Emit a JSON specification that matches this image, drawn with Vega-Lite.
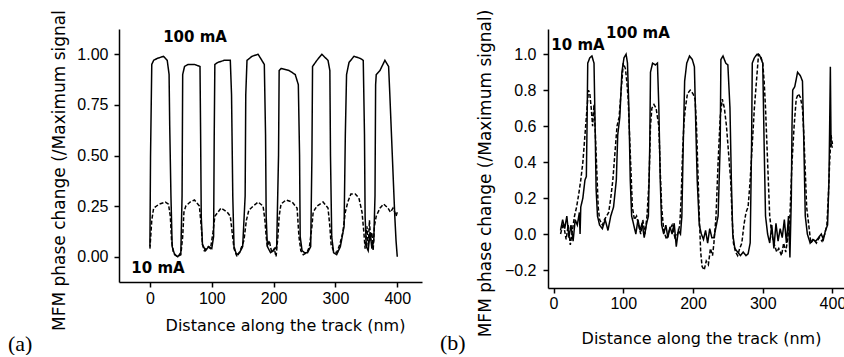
{
"$schema": "https://vega.github.io/schema/vega-lite/v6.json",
"background": "white",
"padding": {"left": 8, "top": 9, "right": 0, "bottom": 0},
"bounds": "flush",
"spacing": 126,
"config": {
 "view": {"stroke": null},
 "axis": {"domainColor": "black", "domainWidth": 1.5, "tickColor": "black", "tickWidth": 1.5, "tickSize": 5, "labelColor": "black", "titleColor": "black", "grid": false, "labelFont": "Liberation Sans", "labelFontSize": 16, "titleFont": "DejaVu Sans", "titleFontWeight": "normal"}
},
"datasets": {
 "a": [
{"x":0,"y":0.05,"s":"100 mA"},{"x":1,"y":0.5,"s":"100 mA"},{"x":3,"y":0.95,"s":"100 mA"},{"x":6,"y":0.97,"s":"100 mA"},{"x":12,"y":0.98,"s":"100 mA"},{"x":22,"y":0.99,"s":"100 mA"},{"x":28,"y":0.97,"s":"100 mA"},{"x":31,"y":0.9,"s":"100 mA"},{"x":32,"y":0.65,"s":"100 mA"},{"x":34,"y":0.3,"s":"100 mA"},{"x":36,"y":0.05,"s":"100 mA"},{"x":40,"y":0.01,"s":"100 mA"},{"x":45,"y":0.0,"s":"100 mA"},{"x":50,"y":0.02,"s":"100 mA"},{"x":52,"y":0.3,"s":"100 mA"},{"x":53,"y":0.9,"s":"100 mA"},{"x":56,"y":0.94,"s":"100 mA"},{"x":62,"y":0.95,"s":"100 mA"},{"x":72,"y":0.95,"s":"100 mA"},{"x":81,"y":0.94,"s":"100 mA"},{"x":82,"y":0.6,"s":"100 mA"},{"x":83,"y":0.2,"s":"100 mA"},{"x":85,"y":0.06,"s":"100 mA"},{"x":90,"y":0.03,"s":"100 mA"},{"x":95,"y":0.05,"s":"100 mA"},{"x":100,"y":0.04,"s":"100 mA"},{"x":103,"y":0.1,"s":"100 mA"},{"x":104,"y":0.6,"s":"100 mA"},{"x":105,"y":0.95,"s":"100 mA"},{"x":110,"y":0.96,"s":"100 mA"},{"x":120,"y":0.97,"s":"100 mA"},{"x":130,"y":0.97,"s":"100 mA"},{"x":132,"y":0.8,"s":"100 mA"},{"x":134,"y":0.3,"s":"100 mA"},{"x":136,"y":0.05,"s":"100 mA"},{"x":140,"y":0.01,"s":"100 mA"},{"x":145,"y":0.02,"s":"100 mA"},{"x":150,"y":0.05,"s":"100 mA"},{"x":154,"y":0.3,"s":"100 mA"},{"x":155,"y":0.8,"s":"100 mA"},{"x":157,"y":0.97,"s":"100 mA"},{"x":165,"y":0.99,"s":"100 mA"},{"x":175,"y":1.0,"s":"100 mA"},{"x":185,"y":0.95,"s":"100 mA"},{"x":187,"y":0.6,"s":"100 mA"},{"x":188,"y":0.2,"s":"100 mA"},{"x":190,"y":0.05,"s":"100 mA"},{"x":195,"y":0.02,"s":"100 mA"},{"x":200,"y":0.03,"s":"100 mA"},{"x":205,"y":0.05,"s":"100 mA"},{"x":208,"y":0.5,"s":"100 mA"},{"x":209,"y":0.92,"s":"100 mA"},{"x":212,"y":0.93,"s":"100 mA"},{"x":225,"y":0.92,"s":"100 mA"},{"x":235,"y":0.9,"s":"100 mA"},{"x":240,"y":0.85,"s":"100 mA"},{"x":242,"y":0.5,"s":"100 mA"},{"x":243,"y":0.1,"s":"100 mA"},{"x":246,"y":0.03,"s":"100 mA"},{"x":250,"y":0.02,"s":"100 mA"},{"x":255,"y":0.02,"s":"100 mA"},{"x":260,"y":0.05,"s":"100 mA"},{"x":262,"y":0.5,"s":"100 mA"},{"x":263,"y":0.94,"s":"100 mA"},{"x":270,"y":0.97,"s":"100 mA"},{"x":278,"y":1.0,"s":"100 mA"},{"x":288,"y":0.97,"s":"100 mA"},{"x":291,"y":0.92,"s":"100 mA"},{"x":292,"y":0.5,"s":"100 mA"},{"x":294,"y":0.1,"s":"100 mA"},{"x":297,"y":0.02,"s":"100 mA"},{"x":302,"y":0.01,"s":"100 mA"},{"x":308,"y":0.05,"s":"100 mA"},{"x":314,"y":0.15,"s":"100 mA"},{"x":316,"y":0.6,"s":"100 mA"},{"x":318,"y":0.9,"s":"100 mA"},{"x":322,"y":0.96,"s":"100 mA"},{"x":330,"y":0.99,"s":"100 mA"},{"x":340,"y":0.98,"s":"100 mA"},{"x":345,"y":0.97,"s":"100 mA"},{"x":347,"y":0.6,"s":"100 mA"},{"x":348,"y":0.2,"s":"100 mA"},{"x":350,"y":0.05,"s":"100 mA"},{"x":353,"y":0.03,"s":"100 mA"},{"x":356,"y":0.12,"s":"100 mA"},{"x":359,"y":0.04,"s":"100 mA"},{"x":362,"y":0.08,"s":"100 mA"},{"x":364,"y":0.3,"s":"100 mA"},{"x":365,"y":0.85,"s":"100 mA"},{"x":366,"y":0.9,"s":"100 mA"},{"x":372,"y":0.92,"s":"100 mA"},{"x":380,"y":0.97,"s":"100 mA"},{"x":386,"y":0.94,"s":"100 mA"},{"x":388,"y":0.8,"s":"100 mA"},{"x":390,"y":0.65,"s":"100 mA"},{"x":392,"y":0.5,"s":"100 mA"},{"x":394,"y":0.35,"s":"100 mA"},{"x":396,"y":0.2,"s":"100 mA"},{"x":398,"y":0.08,"s":"100 mA"},{"x":400,"y":0.0,"s":"100 mA"},
{"x":0,"y":0.04,"s":"10 mA"},{"x":3,"y":0.18,"s":"10 mA"},{"x":6,"y":0.24,"s":"10 mA"},{"x":15,"y":0.26,"s":"10 mA"},{"x":25,"y":0.27,"s":"10 mA"},{"x":30,"y":0.26,"s":"10 mA"},{"x":33,"y":0.2,"s":"10 mA"},{"x":35,"y":0.08,"s":"10 mA"},{"x":38,"y":0.02,"s":"10 mA"},{"x":44,"y":0.0,"s":"10 mA"},{"x":50,"y":0.01,"s":"10 mA"},{"x":53,"y":0.1,"s":"10 mA"},{"x":55,"y":0.22,"s":"10 mA"},{"x":58,"y":0.25,"s":"10 mA"},{"x":65,"y":0.27,"s":"10 mA"},{"x":72,"y":0.28,"s":"10 mA"},{"x":80,"y":0.25,"s":"10 mA"},{"x":83,"y":0.15,"s":"10 mA"},{"x":85,"y":0.06,"s":"10 mA"},{"x":88,"y":0.03,"s":"10 mA"},{"x":93,"y":0.05,"s":"10 mA"},{"x":98,"y":0.04,"s":"10 mA"},{"x":102,"y":0.12,"s":"10 mA"},{"x":105,"y":0.2,"s":"10 mA"},{"x":110,"y":0.22,"s":"10 mA"},{"x":115,"y":0.24,"s":"10 mA"},{"x":125,"y":0.22,"s":"10 mA"},{"x":130,"y":0.2,"s":"10 mA"},{"x":133,"y":0.12,"s":"10 mA"},{"x":136,"y":0.04,"s":"10 mA"},{"x":141,"y":0.0,"s":"10 mA"},{"x":146,"y":0.03,"s":"10 mA"},{"x":152,"y":0.08,"s":"10 mA"},{"x":156,"y":0.18,"s":"10 mA"},{"x":160,"y":0.23,"s":"10 mA"},{"x":167,"y":0.25,"s":"10 mA"},{"x":175,"y":0.27,"s":"10 mA"},{"x":183,"y":0.25,"s":"10 mA"},{"x":186,"y":0.18,"s":"10 mA"},{"x":188,"y":0.1,"s":"10 mA"},{"x":190,"y":0.05,"s":"10 mA"},{"x":193,"y":0.08,"s":"10 mA"},{"x":197,"y":0.02,"s":"10 mA"},{"x":201,"y":0.04,"s":"10 mA"},{"x":204,"y":0.0,"s":"10 mA"},{"x":207,"y":0.1,"s":"10 mA"},{"x":209,"y":0.2,"s":"10 mA"},{"x":212,"y":0.26,"s":"10 mA"},{"x":220,"y":0.28,"s":"10 mA"},{"x":230,"y":0.27,"s":"10 mA"},{"x":238,"y":0.24,"s":"10 mA"},{"x":241,"y":0.1,"s":"10 mA"},{"x":244,"y":0.03,"s":"10 mA"},{"x":248,"y":0.01,"s":"10 mA"},{"x":254,"y":0.02,"s":"10 mA"},{"x":258,"y":0.05,"s":"10 mA"},{"x":262,"y":0.15,"s":"10 mA"},{"x":264,"y":0.22,"s":"10 mA"},{"x":270,"y":0.25,"s":"10 mA"},{"x":280,"y":0.27,"s":"10 mA"},{"x":288,"y":0.24,"s":"10 mA"},{"x":291,"y":0.15,"s":"10 mA"},{"x":293,"y":0.06,"s":"10 mA"},{"x":297,"y":0.03,"s":"10 mA"},{"x":302,"y":0.02,"s":"10 mA"},{"x":307,"y":0.06,"s":"10 mA"},{"x":312,"y":0.12,"s":"10 mA"},{"x":316,"y":0.22,"s":"10 mA"},{"x":320,"y":0.27,"s":"10 mA"},{"x":325,"y":0.31,"s":"10 mA"},{"x":332,"y":0.31,"s":"10 mA"},{"x":338,"y":0.29,"s":"10 mA"},{"x":343,"y":0.22,"s":"10 mA"},{"x":346,"y":0.12,"s":"10 mA"},{"x":348,"y":0.04,"s":"10 mA"},{"x":351,"y":0.15,"s":"10 mA"},{"x":353,"y":0.05,"s":"10 mA"},{"x":355,"y":0.18,"s":"10 mA"},{"x":357,"y":0.08,"s":"10 mA"},{"x":359,"y":0.12,"s":"10 mA"},{"x":361,"y":0.03,"s":"10 mA"},{"x":363,"y":0.15,"s":"10 mA"},{"x":366,"y":0.2,"s":"10 mA"},{"x":372,"y":0.24,"s":"10 mA"},{"x":378,"y":0.26,"s":"10 mA"},{"x":385,"y":0.24,"s":"10 mA"},{"x":389,"y":0.22,"s":"10 mA"},{"x":393,"y":0.24,"s":"10 mA"},{"x":396,"y":0.22,"s":"10 mA"},{"x":398,"y":0.2,"s":"10 mA"},{"x":400,"y":0.22,"s":"10 mA"}
 ],
 "b": [
{"x":10,"y":0.02,"s":"100 mA"},{"x":13,"y":0.08,"s":"100 mA"},{"x":16,"y":0.03,"s":"100 mA"},{"x":19,"y":0.1,"s":"100 mA"},{"x":22,"y":-0.02,"s":"100 mA"},{"x":25,"y":0.05,"s":"100 mA"},{"x":28,"y":-0.04,"s":"100 mA"},{"x":31,"y":0.08,"s":"100 mA"},{"x":34,"y":0.05,"s":"100 mA"},{"x":37,"y":0.12,"s":"100 mA"},{"x":38,"y":0.0,"s":"100 mA"},{"x":39,"y":0.15,"s":"100 mA"},{"x":42,"y":0.2,"s":"100 mA"},{"x":45,"y":0.3,"s":"100 mA"},{"x":47,"y":0.32,"s":"100 mA"},{"x":48,"y":0.6,"s":"100 mA"},{"x":49,"y":0.95,"s":"100 mA"},{"x":52,"y":0.98,"s":"100 mA"},{"x":55,"y":0.99,"s":"100 mA"},{"x":58,"y":0.95,"s":"100 mA"},{"x":60,"y":0.5,"s":"100 mA"},{"x":61,"y":0.25,"s":"100 mA"},{"x":63,"y":0.1,"s":"100 mA"},{"x":66,"y":0.05,"s":"100 mA"},{"x":70,"y":0.03,"s":"100 mA"},{"x":74,"y":0.08,"s":"100 mA"},{"x":78,"y":0.02,"s":"100 mA"},{"x":82,"y":0.1,"s":"100 mA"},{"x":86,"y":0.15,"s":"100 mA"},{"x":90,"y":0.3,"s":"100 mA"},{"x":92,"y":0.55,"s":"100 mA"},{"x":95,"y":0.65,"s":"100 mA"},{"x":98,"y":0.9,"s":"100 mA"},{"x":101,"y":0.98,"s":"100 mA"},{"x":104,"y":1.0,"s":"100 mA"},{"x":106,"y":0.95,"s":"100 mA"},{"x":108,"y":0.7,"s":"100 mA"},{"x":110,"y":0.3,"s":"100 mA"},{"x":112,"y":0.1,"s":"100 mA"},{"x":115,"y":0.05,"s":"100 mA"},{"x":118,"y":0.0,"s":"100 mA"},{"x":121,"y":0.08,"s":"100 mA"},{"x":124,"y":0.02,"s":"100 mA"},{"x":127,"y":0.06,"s":"100 mA"},{"x":130,"y":-0.02,"s":"100 mA"},{"x":133,"y":0.05,"s":"100 mA"},{"x":136,"y":0.1,"s":"100 mA"},{"x":138,"y":0.5,"s":"100 mA"},{"x":139,"y":0.9,"s":"100 mA"},{"x":142,"y":0.95,"s":"100 mA"},{"x":146,"y":0.94,"s":"100 mA"},{"x":149,"y":0.95,"s":"100 mA"},{"x":151,"y":0.7,"s":"100 mA"},{"x":153,"y":0.3,"s":"100 mA"},{"x":155,"y":0.05,"s":"100 mA"},{"x":158,"y":0.0,"s":"100 mA"},{"x":161,"y":0.05,"s":"100 mA"},{"x":164,"y":-0.02,"s":"100 mA"},{"x":167,"y":0.04,"s":"100 mA"},{"x":170,"y":0.0,"s":"100 mA"},{"x":173,"y":0.06,"s":"100 mA"},{"x":176,"y":-0.07,"s":"100 mA"},{"x":179,"y":0.02,"s":"100 mA"},{"x":182,"y":0.0,"s":"100 mA"},{"x":184,"y":0.1,"s":"100 mA"},{"x":186,"y":0.5,"s":"100 mA"},{"x":188,"y":0.85,"s":"100 mA"},{"x":191,"y":0.95,"s":"100 mA"},{"x":195,"y":0.99,"s":"100 mA"},{"x":199,"y":0.97,"s":"100 mA"},{"x":202,"y":0.93,"s":"100 mA"},{"x":204,"y":0.6,"s":"100 mA"},{"x":206,"y":0.3,"s":"100 mA"},{"x":209,"y":0.05,"s":"100 mA"},{"x":212,"y":0.0,"s":"100 mA"},{"x":215,"y":-0.03,"s":"100 mA"},{"x":218,"y":0.02,"s":"100 mA"},{"x":221,"y":-0.05,"s":"100 mA"},{"x":224,"y":0.03,"s":"100 mA"},{"x":227,"y":-0.02,"s":"100 mA"},{"x":230,"y":-0.02,"s":"100 mA"},{"x":236,"y":0.1,"s":"100 mA"},{"x":239,"y":0.5,"s":"100 mA"},{"x":240,"y":0.97,"s":"100 mA"},{"x":243,"y":0.99,"s":"100 mA"},{"x":247,"y":0.95,"s":"100 mA"},{"x":250,"y":0.94,"s":"100 mA"},{"x":253,"y":0.7,"s":"100 mA"},{"x":255,"y":0.3,"s":"100 mA"},{"x":257,"y":0.0,"s":"100 mA"},{"x":260,"y":-0.08,"s":"100 mA"},{"x":264,"y":-0.1,"s":"100 mA"},{"x":268,"y":-0.12,"s":"100 mA"},{"x":272,"y":-0.1,"s":"100 mA"},{"x":276,"y":-0.12,"s":"100 mA"},{"x":279,"y":-0.11,"s":"100 mA"},{"x":282,"y":-0.05,"s":"100 mA"},{"x":284,"y":0.5,"s":"100 mA"},{"x":285,"y":0.95,"s":"100 mA"},{"x":288,"y":0.98,"s":"100 mA"},{"x":292,"y":1.0,"s":"100 mA"},{"x":296,"y":0.99,"s":"100 mA"},{"x":300,"y":0.95,"s":"100 mA"},{"x":302,"y":0.5,"s":"100 mA"},{"x":304,"y":0.1,"s":"100 mA"},{"x":307,"y":0.0,"s":"100 mA"},{"x":310,"y":-0.05,"s":"100 mA"},{"x":313,"y":0.05,"s":"100 mA"},{"x":316,"y":-0.08,"s":"100 mA"},{"x":319,"y":0.06,"s":"100 mA"},{"x":322,"y":-0.04,"s":"100 mA"},{"x":325,"y":0.03,"s":"100 mA"},{"x":328,"y":-0.02,"s":"100 mA"},{"x":331,"y":0.08,"s":"100 mA"},{"x":334,"y":-0.05,"s":"100 mA"},{"x":337,"y":0.1,"s":"100 mA"},{"x":339,"y":-0.13,"s":"100 mA"},{"x":341,"y":0.2,"s":"100 mA"},{"x":342,"y":0.6,"s":"100 mA"},{"x":343,"y":0.8,"s":"100 mA"},{"x":346,"y":0.82,"s":"100 mA"},{"x":350,"y":0.9,"s":"100 mA"},{"x":354,"y":0.88,"s":"100 mA"},{"x":357,"y":0.85,"s":"100 mA"},{"x":359,"y":0.5,"s":"100 mA"},{"x":361,"y":0.1,"s":"100 mA"},{"x":364,"y":0.0,"s":"100 mA"},{"x":368,"y":-0.05,"s":"100 mA"},{"x":372,"y":-0.03,"s":"100 mA"},{"x":376,"y":-0.04,"s":"100 mA"},{"x":380,"y":-0.02,"s":"100 mA"},{"x":384,"y":0.0,"s":"100 mA"},{"x":387,"y":-0.03,"s":"100 mA"},{"x":390,"y":0.02,"s":"100 mA"},{"x":393,"y":0.05,"s":"100 mA"},{"x":395,"y":0.3,"s":"100 mA"},{"x":396,"y":0.6,"s":"100 mA"},{"x":397,"y":0.93,"s":"100 mA"},{"x":398,"y":0.5,"s":"100 mA"},{"x":400,"y":0.48,"s":"100 mA"},
{"x":10,"y":0.0,"s":"10 mA"},{"x":14,"y":0.06,"s":"10 mA"},{"x":18,"y":-0.03,"s":"10 mA"},{"x":21,"y":0.05,"s":"10 mA"},{"x":24,"y":-0.06,"s":"10 mA"},{"x":27,"y":0.02,"s":"10 mA"},{"x":30,"y":0.1,"s":"10 mA"},{"x":33,"y":0.15,"s":"10 mA"},{"x":36,"y":0.22,"s":"10 mA"},{"x":39,"y":0.3,"s":"10 mA"},{"x":42,"y":0.4,"s":"10 mA"},{"x":44,"y":0.5,"s":"10 mA"},{"x":46,"y":0.6,"s":"10 mA"},{"x":48,"y":0.7,"s":"10 mA"},{"x":50,"y":0.8,"s":"10 mA"},{"x":52,"y":0.78,"s":"10 mA"},{"x":54,"y":0.7,"s":"10 mA"},{"x":56,"y":0.6,"s":"10 mA"},{"x":58,"y":0.72,"s":"10 mA"},{"x":60,"y":0.55,"s":"10 mA"},{"x":62,"y":0.35,"s":"10 mA"},{"x":64,"y":0.15,"s":"10 mA"},{"x":66,"y":0.08,"s":"10 mA"},{"x":70,"y":0.05,"s":"10 mA"},{"x":73,"y":0.08,"s":"10 mA"},{"x":76,"y":0.1,"s":"10 mA"},{"x":79,"y":0.12,"s":"10 mA"},{"x":82,"y":0.2,"s":"10 mA"},{"x":85,"y":0.3,"s":"10 mA"},{"x":88,"y":0.45,"s":"10 mA"},{"x":91,"y":0.6,"s":"10 mA"},{"x":94,"y":0.65,"s":"10 mA"},{"x":97,"y":0.8,"s":"10 mA"},{"x":100,"y":0.95,"s":"10 mA"},{"x":103,"y":0.92,"s":"10 mA"},{"x":105,"y":0.85,"s":"10 mA"},{"x":107,"y":0.75,"s":"10 mA"},{"x":109,"y":0.55,"s":"10 mA"},{"x":111,"y":0.35,"s":"10 mA"},{"x":113,"y":0.15,"s":"10 mA"},{"x":116,"y":0.08,"s":"10 mA"},{"x":119,"y":0.1,"s":"10 mA"},{"x":122,"y":0.05,"s":"10 mA"},{"x":125,"y":0.0,"s":"10 mA"},{"x":128,"y":0.08,"s":"10 mA"},{"x":131,"y":0.0,"s":"10 mA"},{"x":134,"y":0.1,"s":"10 mA"},{"x":137,"y":0.3,"s":"10 mA"},{"x":139,"y":0.6,"s":"10 mA"},{"x":141,"y":0.7,"s":"10 mA"},{"x":144,"y":0.72,"s":"10 mA"},{"x":147,"y":0.7,"s":"10 mA"},{"x":149,"y":0.65,"s":"10 mA"},{"x":151,"y":0.6,"s":"10 mA"},{"x":153,"y":0.35,"s":"10 mA"},{"x":155,"y":0.15,"s":"10 mA"},{"x":158,"y":0.02,"s":"10 mA"},{"x":162,"y":-0.03,"s":"10 mA"},{"x":166,"y":0.02,"s":"10 mA"},{"x":170,"y":0.05,"s":"10 mA"},{"x":174,"y":-0.02,"s":"10 mA"},{"x":178,"y":0.0,"s":"10 mA"},{"x":181,"y":0.05,"s":"10 mA"},{"x":183,"y":0.2,"s":"10 mA"},{"x":185,"y":0.45,"s":"10 mA"},{"x":187,"y":0.62,"s":"10 mA"},{"x":189,"y":0.7,"s":"10 mA"},{"x":192,"y":0.78,"s":"10 mA"},{"x":196,"y":0.8,"s":"10 mA"},{"x":200,"y":0.78,"s":"10 mA"},{"x":203,"y":0.75,"s":"10 mA"},{"x":205,"y":0.6,"s":"10 mA"},{"x":207,"y":0.35,"s":"10 mA"},{"x":209,"y":0.1,"s":"10 mA"},{"x":211,"y":-0.1,"s":"10 mA"},{"x":213,"y":-0.18,"s":"10 mA"},{"x":216,"y":-0.2,"s":"10 mA"},{"x":219,"y":-0.15,"s":"10 mA"},{"x":222,"y":-0.17,"s":"10 mA"},{"x":225,"y":-0.08,"s":"10 mA"},{"x":228,"y":-0.12,"s":"10 mA"},{"x":230,"y":-0.05,"s":"10 mA"},{"x":233,"y":0.1,"s":"10 mA"},{"x":236,"y":0.4,"s":"10 mA"},{"x":239,"y":0.65,"s":"10 mA"},{"x":242,"y":0.75,"s":"10 mA"},{"x":245,"y":0.7,"s":"10 mA"},{"x":248,"y":0.6,"s":"10 mA"},{"x":251,"y":0.45,"s":"10 mA"},{"x":254,"y":0.3,"s":"10 mA"},{"x":256,"y":0.1,"s":"10 mA"},{"x":258,"y":-0.05,"s":"10 mA"},{"x":261,"y":-0.1,"s":"10 mA"},{"x":264,"y":-0.12,"s":"10 mA"},{"x":267,"y":-0.08,"s":"10 mA"},{"x":270,"y":-0.05,"s":"10 mA"},{"x":273,"y":0.05,"s":"10 mA"},{"x":276,"y":0.12,"s":"10 mA"},{"x":279,"y":0.15,"s":"10 mA"},{"x":282,"y":0.3,"s":"10 mA"},{"x":285,"y":0.5,"s":"10 mA"},{"x":288,"y":0.7,"s":"10 mA"},{"x":291,"y":0.85,"s":"10 mA"},{"x":294,"y":1.0,"s":"10 mA"},{"x":297,"y":0.99,"s":"10 mA"},{"x":300,"y":0.95,"s":"10 mA"},{"x":302,"y":0.85,"s":"10 mA"},{"x":304,"y":0.7,"s":"10 mA"},{"x":306,"y":0.5,"s":"10 mA"},{"x":308,"y":0.3,"s":"10 mA"},{"x":310,"y":0.1,"s":"10 mA"},{"x":313,"y":0.0,"s":"10 mA"},{"x":316,"y":-0.05,"s":"10 mA"},{"x":320,"y":-0.1,"s":"10 mA"},{"x":323,"y":-0.08,"s":"10 mA"},{"x":327,"y":-0.12,"s":"10 mA"},{"x":330,"y":-0.05,"s":"10 mA"},{"x":333,"y":-0.1,"s":"10 mA"},{"x":336,"y":-0.02,"s":"10 mA"},{"x":339,"y":0.1,"s":"10 mA"},{"x":342,"y":0.4,"s":"10 mA"},{"x":345,"y":0.6,"s":"10 mA"},{"x":348,"y":0.75,"s":"10 mA"},{"x":351,"y":0.78,"s":"10 mA"},{"x":354,"y":0.76,"s":"10 mA"},{"x":357,"y":0.7,"s":"10 mA"},{"x":359,"y":0.55,"s":"10 mA"},{"x":361,"y":0.35,"s":"10 mA"},{"x":363,"y":0.15,"s":"10 mA"},{"x":366,"y":0.05,"s":"10 mA"},{"x":369,"y":-0.05,"s":"10 mA"},{"x":373,"y":-0.03,"s":"10 mA"},{"x":377,"y":-0.05,"s":"10 mA"},{"x":381,"y":-0.02,"s":"10 mA"},{"x":385,"y":-0.04,"s":"10 mA"},{"x":389,"y":0.0,"s":"10 mA"},{"x":392,"y":0.05,"s":"10 mA"},{"x":394,"y":0.2,"s":"10 mA"},{"x":396,"y":0.4,"s":"10 mA"},{"x":398,"y":0.55,"s":"10 mA"},{"x":400,"y":0.5,"s":"10 mA"}
 ],
 "la": [{"x":73,"y":1.06,"label":"100 mA"},{"x":13,"y":-0.08,"label":"10 mA"}],
 "lb": [{"x":35,"y":1.024,"label":"10 mA"},{"x":121,"y":1.09,"label":"100 mA"}]
},
"hconcat": [
 {
  "width": 303, "height": 253,
  "title": {"text": "(a)", "orient": "bottom", "anchor": "start", "frame": "group", "dx": -111, "offset": 1, "font": "Liberation Serif", "fontSize": 22, "fontWeight": "normal", "color": "black"},
  "layer": [
   {"data": {"name": "a"}, "mark": {"type": "line", "color": "black", "strokeWidth": 1.5},
    "encoding": {
     "x": {"field": "x", "type": "quantitative", "title": "Distance along the track (nm)", "scale": {"domain": [-50, 440], "nice": false, "zero": false},
       "axis": {"values": [0,100,200,300,400], "format": "d", "labelPadding": 3, "titleX": 166, "titleY": 48, "titleBaseline": "alphabetic", "titleFontSize": 16}},
     "y": {"field": "y", "type": "quantitative", "title": "MFM phase change (/Maximum signal", "scale": {"domain": [-0.125, 1.125], "nice": false, "zero": false},
       "axis": {"values": [0,0.25,0.5,0.75,1], "format": ".2f", "labelPadding": 6, "titleX": -60, "titleY": 141, "titleBaseline": "middle", "titleFontSize": 17}},
     "strokeDash": {"field": "s", "type": "nominal", "scale": {"domain": ["100 mA","10 mA"], "range": [[1,0],[4,2]]}, "legend": null}
    }},
   {"data": {"name": "la"}, "mark": {"type": "text", "font": "DejaVu Sans", "fontWeight": "bold", "fontSize": 15, "align": "center", "baseline": "alphabetic", "color": "black"},
    "encoding": {
     "x": {"field": "x", "type": "quantitative", "title": "Distance along the track (nm)"},
     "y": {"field": "y", "type": "quantitative", "title": "MFM phase change (/Maximum signal"},
     "text": {"field": "label"}
    }}
  ]
 },
 {
  "width": 297, "height": 259,
  "title": {"text": "(b)", "orient": "bottom", "anchor": "start", "frame": "group", "dx": -108, "offset": -13, "font": "Liberation Serif", "fontSize": 22, "fontWeight": "normal", "color": "black"},
  "layer": [
   {"data": {"name": "b"}, "mark": {"type": "line", "color": "black", "strokeWidth": 1.5},
    "encoding": {
     "x": {"field": "x", "type": "quantitative", "title": "Distance along the track (nm)", "scale": {"domain": [-8, 418], "nice": false, "zero": false},
       "axis": {"values": [0,100,200,300,400], "format": "d", "labelPadding": 2, "titleX": 153, "titleY": 55, "titleBaseline": "alphabetic", "titleFontSize": 16}},
     "y": {"field": "y", "type": "quantitative", "title": "MFM phase change (/Maximum signal)", "scale": {"domain": [-0.3, 1.14], "nice": false, "zero": false},
       "axis": {"values": [-0.2,0,0.2,0.4,0.6,0.8,1.0], "format": ".1f", "labelPadding": 7, "titleX": -63, "titleY": 144, "titleBaseline": "middle", "titleFontSize": 17}},
     "strokeDash": {"field": "s", "type": "nominal", "scale": {"domain": ["100 mA","10 mA"], "range": [[1,0],[4,2]]}, "legend": null}
    }},
   {"data": {"name": "lb"}, "mark": {"type": "text", "font": "DejaVu Sans", "fontWeight": "bold", "fontSize": 15, "align": "center", "baseline": "alphabetic", "color": "black"},
    "encoding": {
     "x": {"field": "x", "type": "quantitative", "title": "Distance along the track (nm)"},
     "y": {"field": "y", "type": "quantitative", "title": "MFM phase change (/Maximum signal)"},
     "text": {"field": "label"}
    }}
  ]
 }
]
}
